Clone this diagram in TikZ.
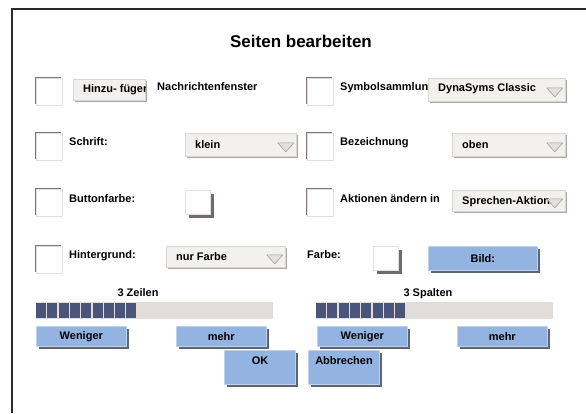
\documentclass[tikz,border=0pt]{standalone}
\usepackage{fontspec}
\setmainfont{Liberation Sans}
\usetikzlibrary{shadows}

\definecolor{framec}{HTML}{2B2B2B}
\definecolor{btnblue}{HTML}{93B3E1}
\definecolor{btnshade}{HTML}{5F6672}
\definecolor{ddfill}{HTML}{F3F1EF}
\definecolor{ddline}{HTML}{D9D5D1}
\definecolor{ddshade}{HTML}{ABA7A3}
\definecolor{cbdark}{HTML}{7E7676}
\definecolor{cblight}{HTML}{E3DFDF}
\definecolor{barbg}{HTML}{E2DCDA}
\definecolor{barblk}{HTML}{4B5579}
\definecolor{colshade}{HTML}{6F6B6B}

\tikzset{
  txt/.style={font=\bfseries\fontsize{11}{13}\selectfont, inner sep=0pt},
  lbl/.style={txt, anchor=base west},
  chkbox/.style={anchor=north west, minimum width=26pt, minimum height=27pt, inner sep=0pt,
    fill=white, draw=cblight, line width=1pt,
    drop shadow={shadow xshift=-2pt, shadow yshift=2pt, fill=cbdark, opacity=1}},
  colbox/.style={anchor=north west, minimum width=25pt, minimum height=24pt, inner sep=0pt,
    fill=white, draw=cblight, line width=1pt,
    drop shadow={shadow xshift=3pt, shadow yshift=-3pt, fill=colshade, opacity=1}},
  dropbox/.style={anchor=north west, minimum height=23pt, inner sep=0pt,
    fill=ddfill, draw=ddline, line width=0.8pt,
    drop shadow={shadow xshift=2pt, shadow yshift=-2pt, fill=ddshade, opacity=1}},
  ddarrow/.style={fill=ddfill!85!gray, draw=gray!75, line width=0.6pt, line join=round},
  btn/.style={txt, anchor=north west, minimum height=20pt, minimum width=90pt, fill=btnblue,
    draw=btnblue!60!white, line width=0.6pt,
    drop shadow={shadow xshift=2.5pt, shadow yshift=-2.5pt, fill=btnshade, opacity=1}},
}

% arrow of a drop-down list
\newcommand{\ddarrow}[1]{%
  \filldraw[ddarrow] ([xshift=-19pt,yshift=2pt]#1.east) -- ([xshift=-3pt,yshift=2pt]#1.east)
    -- ([xshift=-11pt,yshift=-7pt]#1.east) -- cycle;}

\begin{document}
\begin{tikzpicture}[x=1pt,y=-1pt]
\useasboundingbox (0,0) rectangle (586,413);
\draw[framec, line width=2.5pt] (586,9) -- (12,9) -- (12,413);
\node[font=\bfseries\fontsize{17}{20}\selectfont] (title) at (301,41) {Seiten bearbeiten};

% row 1
\node[chkbox] (cb1) at (36,78) {};
\node[dropbox, minimum width=72pt, minimum height=21pt] (add) at (73,79) {};
\begin{scope}
\clip (add.north west) rectangle (add.south east);
\node[lbl] (addt) at (83,92) {Hinzu- fügen};
\end{scope}
\node[lbl] (msg) at (157,90) {Nachrichtenfenster};
\node[chkbox] (cb2) at (307,78) {};
\node[lbl] (sym) at (340,90) {Symbolsammlun};
\node[dropbox, minimum width=137pt] (dd1) at (428,78) {};
\node[lbl] (dd1t) at (438,91) {DynaSyms Classic};
\ddarrow{dd1}

% row 2
\node[chkbox] (cb3) at (36,133) {};
\node[lbl] (font) at (69,145) {Schrift:};
\node[dropbox, minimum width=111pt] (dd2) at (185,133) {};
\node[lbl] (dd2t) at (195,148) {klein};
\ddarrow{dd2}
\node[chkbox] (cb4) at (307,133) {};
\node[lbl] (cap) at (340,145) {Bezeichnung};
\node[dropbox, minimum width=113pt] (dd3) at (452,133) {};
\node[lbl] (dd3t) at (462,148) {oben};
\ddarrow{dd3}

% row 3
\node[chkbox] (cb5) at (36,189) {};
\node[lbl] (bcol) at (69,202) {Buttonfarbe:};
\node[colbox] (col1) at (185,190) {};
\node[chkbox] (cb6) at (307,189) {};
\node[lbl] (act) at (340,202) {Aktionen ändern in};
\node[dropbox, minimum width=113pt, minimum height=21pt] (dd4) at (452,190) {};
\node[lbl] (dd4t) at (462,204) {Sprechen-Aktion};
\ddarrow{dd4}

% row 4
\node[chkbox] (cb7) at (36,246) {};
\node[lbl] (bg) at (69,258) {Hintergrund:};
\node[dropbox, minimum width=119pt, minimum height=21pt] (dd5) at (166,246) {};
\node[lbl] (dd5t) at (176,260) {nur Farbe};
\ddarrow{dd5}
\node[lbl] (colr) at (307,258) {Farbe:};
\node[colbox] (col2) at (373,246) {};
\node[btn, minimum width=109pt, minimum height=24pt] (pic) at (428,246) {Bild:};

% rows and columns
\node[txt, anchor=base] (rows) at (138,296) {3 Zeilen};
\fill[barbg] (36,302) rectangle (273,319);
\foreach \i in {0,...,8}
  \fill[barblk] (36+\i*11.3,303) rectangle ++(10,15);
\node[txt, anchor=base] (cols) at (428,296) {3 Spalten};
\fill[barbg] (316,302) rectangle (553,319);
\foreach \i in {0,...,7}
  \fill[barblk] (316+\i*11.3,303) rectangle ++(10,15);

\node[btn] (less1) at (36,326) {Weniger};
\node[btn] (more1) at (176,326) {mehr};
\node[btn] (less2) at (317,326) {Weniger};
\node[btn] (more2) at (457,326) {mehr};

% OK / Abbrechen
\node[btn, minimum width=71pt, minimum height=34pt] (ok) at (224,350) {};
\node[txt, anchor=base] (okt) at (260,364) {OK};
\node[btn, minimum width=71pt, minimum height=34pt] (abb) at (308,350) {};
\node[txt, anchor=base] (abbt) at (344,364) {Abbrechen};
\end{tikzpicture}
\end{document}
